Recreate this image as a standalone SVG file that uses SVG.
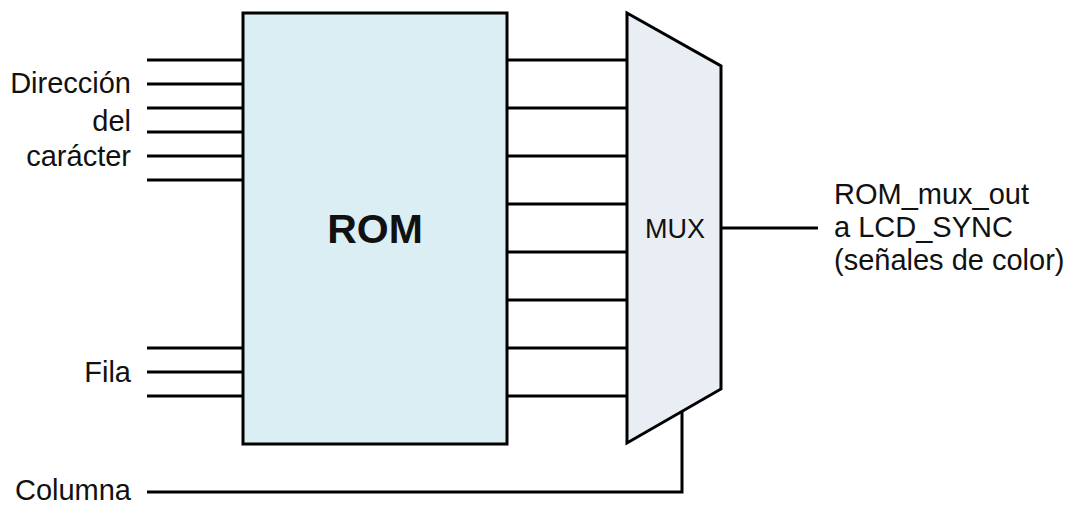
<svg xmlns="http://www.w3.org/2000/svg" width="1065" height="506" viewBox="0 0 1065 506">
<style>
.w{stroke:#000;stroke-width:3;fill:none}
.t{font-family:"Liberation Sans",Arial,sans-serif;font-size:29px;fill:#111}
</style>
<rect width="1065" height="506" fill="#fff"/>
<g id="connectors">
<path class="w" d="M147 60H243M147 84H243M147 108H243M147 132H243M147 156H243M147 180H243"/>
<path class="w" d="M147 348H243M147 372H243M147 396H243"/>
<path class="w" d="M507 60H627M507 108H627M507 156H627M507 204H627M507 252H627M507 300H627M507 348H627M507 396H627"/>
<path class="w" d="M147 492H682V412"/>
<path class="w" d="M721 228H818"/>
</g>
<g id="rom">
<rect x="243" y="13" width="264" height="431" fill="#DAEEF3" stroke="#000" stroke-width="3"/>
<text x="375" y="243" text-anchor="middle" style="font-family:'Liberation Sans',Arial,sans-serif;font-size:41px;font-weight:bold;fill:#111">ROM</text>
</g>
<g id="mux">
<polygon points="627,13 721,66 721,389 627,443" fill="#E9EDF4" stroke="#000" stroke-width="3" stroke-linejoin="miter"/>
<text x="675" y="238" text-anchor="middle" class="t" style="font-size:27px">MUX</text>
</g>
<g id="labels">
<text class="t" x="131" y="93" text-anchor="end">Dirección</text>
<text class="t" x="131" y="131" text-anchor="end">del</text>
<text class="t" x="131" y="166" text-anchor="end">carácter</text>
<text class="t" x="131" y="382" text-anchor="end">Fila</text>
<text class="t" x="131" y="500" text-anchor="end">Columna</text>
<text class="t" x="834" y="204">ROM_mux_out</text>
<text class="t" x="834" y="237">a LCD_SYNC</text>
<text class="t" x="834" y="270">(señales de color)</text>
</g>
</svg>
